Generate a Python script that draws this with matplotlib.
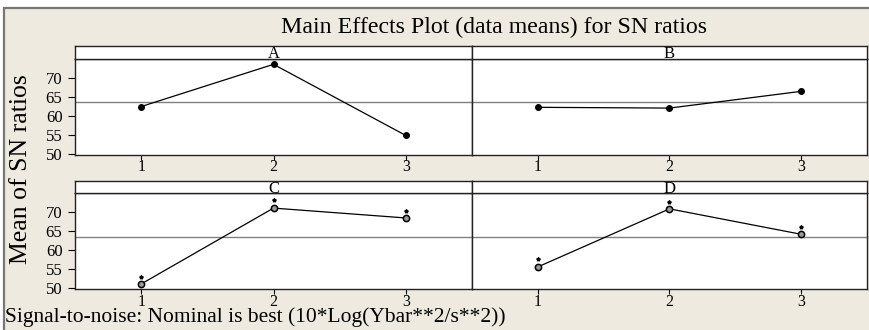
import matplotlib
matplotlib.use("Agg")
import matplotlib.pyplot as plt
from matplotlib.patches import Rectangle

plt.rcParams['font.family'] = ['Liberation Serif', 'DejaVu Serif']

factors = ["A", "B", "C", "D"]
levels = [1, 2, 3]
sn_means = {
    "A": [62.5, 73.6, 54.9],
    "B": [62.3, 62.1, 66.5],
    "C": [51.1, 71.1, 68.5],
    "D": [55.6, 70.9, 64.2],
}
star_values = {
    "C": [53.0, 73.2, 70.4],
    "D": [57.7, 72.8, 66.1],
}
overall_mean = 63.6
yticks = [50, 55, 60, 65, 70]
title = "Main Effects Plot (data means) for SN ratios"
ylabel = "Mean of SN ratios"
footer = "Signal-to-noise: Nominal is best (10*Log(Ybar**2/s**2))"

W, H = 869, 330
fig = plt.figure(figsize=(W / 100, H / 100), dpi=100)
fig.patch.set_facecolor("white")
bg = "#EEEAE0"
fig.patches.append(Rectangle((4 / W, -0.2), 1.2, (H - 7.5) / H + 0.2,
                             transform=fig.transFigure, facecolor=bg,
                             edgecolor="#777777", lw=1.6, zorder=-10))

xs = [75, 472, 867]
rows = [(46, 59, 154.5, (49.9, 75.0)), (181, 193.3, 289.3, (49.7, 75.0))]

def fx(p):
    return p / W

def fy(p):
    return (H - p) / H

for r, (stop, dtop, dbot, ylim) in enumerate(rows):
    for c in range(2):
        f = factors[r * 2 + c]
        x0, x1 = xs[c], xs[c + 1]
        ax = fig.add_axes([fx(x0), fy(dbot), fx(x1 - x0), fy(dtop) - fy(dbot)])
        ax.set_facecolor("white")
        ax.axhline(overall_mean, color="#808080", lw=1.0, zorder=1)
        ax.plot(levels, sn_means[f], color="black", lw=0.9, zorder=2)
        if f in star_values:
            ax.plot(levels, sn_means[f], ls="none", marker="o", ms=4.5,
                    mfc="#9a9a9a", mec="black", mew=1.1, zorder=3)
            ax.plot(levels, star_values[f], ls="none", marker="*", ms=2.8,
                    color="black", zorder=3)
        else:
            ax.plot(levels, sn_means[f], ls="none", marker="o", ms=4,
                    color="black", zorder=3)
        ax.set_xlim(0.5, 3.5)
        ax.set_ylim(*ylim)
        ax.set_xticks(levels)
        ax.set_xticklabels([str(l) for l in levels], fontsize=11.5)
        ax.tick_params(axis="x", direction="out", length=3.5, width=0.8, pad=0)
        if c == 0:
            ax.set_yticks(yticks)
            ax.set_yticklabels([str(t) for t in yticks], fontsize=12)
            ax.tick_params(axis="y", direction="out", length=5, width=0.8, pad=4)
        else:
            ax.set_yticks([])
        for s in ax.spines.values():
            s.set_linewidth(1.0)
            s.set_color("#222222")
        # strip
        sax = fig.add_axes([fx(x0), fy(dtop), fx(x1 - x0), fy(stop) - fy(dtop)])
        sax.set_facecolor("white")
        sax.set_xticks([])
        sax.set_yticks([])
        for s in sax.spines.values():
            s.set_linewidth(1.0)
            s.set_color("#222222")
        sax.text(0.5, 0.06, f, transform=sax.transAxes, ha="center",
                 va="baseline", fontsize=12)

fig.text(fx(494), fy(27), title, ha="center", va="center", fontsize=17.2)
fig.text(fx(21), fy(169), ylabel, ha="center", va="center", rotation=90,
         fontsize=18.5)
fig.text(fx(5), fy(322), footer, ha="left", va="baseline", fontsize=15.5)

fig.savefig("out.png", dpi=100, facecolor=fig.get_facecolor())
